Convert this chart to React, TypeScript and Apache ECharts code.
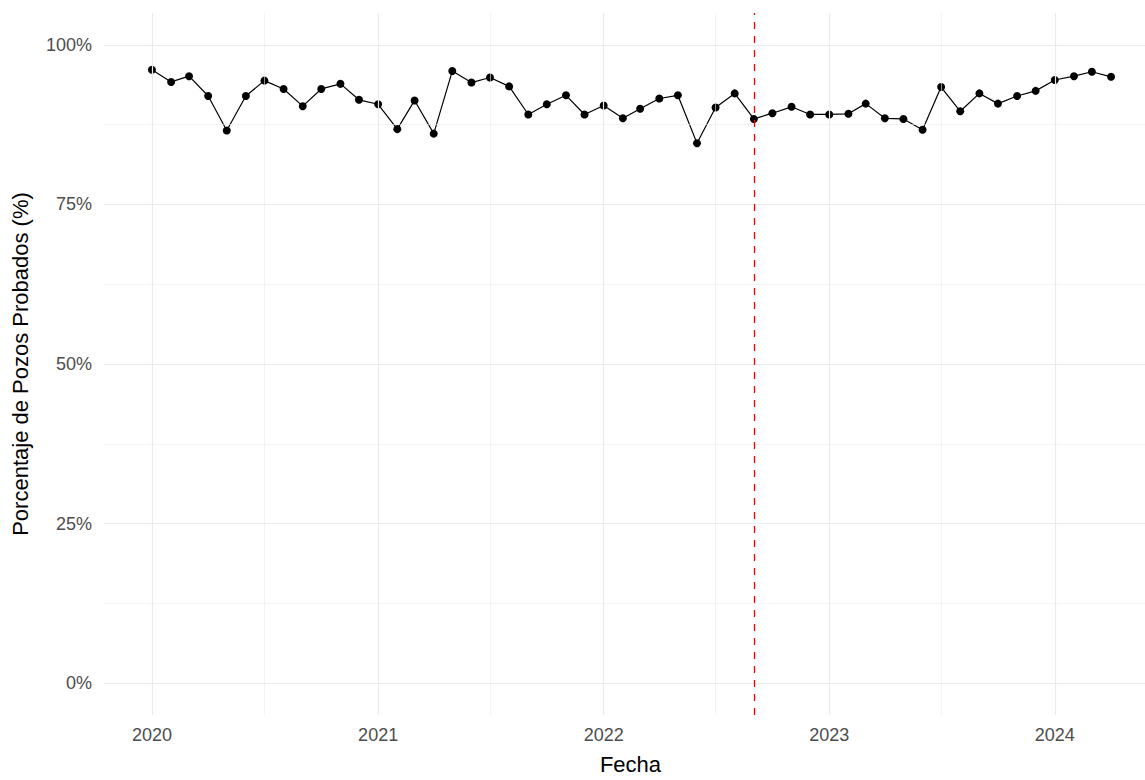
import React, { useEffect, useRef } from "react";
import * as echarts from "echarts";

const fechas: string[] = [
  "2020-01-01", "2020-02-01", "2020-03-01", "2020-04-01", "2020-05-01", "2020-06-01",
  "2020-07-01", "2020-08-01", "2020-09-01", "2020-10-01", "2020-11-01", "2020-12-01",
  "2021-01-01", "2021-02-01", "2021-03-01", "2021-04-01", "2021-05-01", "2021-06-01",
  "2021-07-01", "2021-08-01", "2021-09-01", "2021-10-01", "2021-11-01", "2021-12-01",
  "2022-01-01", "2022-02-01", "2022-03-01", "2022-04-01", "2022-05-01", "2022-06-01",
  "2022-07-01", "2022-08-01", "2022-09-01", "2022-10-01", "2022-11-01", "2022-12-01",
  "2023-01-01", "2023-02-01", "2023-03-01", "2023-04-01", "2023-05-01", "2023-06-01",
  "2023-07-01", "2023-08-01", "2023-09-01", "2023-10-01", "2023-11-01", "2023-12-01",
  "2024-01-01", "2024-02-01", "2024-03-01", "2024-04-01",
];

const porcentajes: number[] = [
  96.1, 94.2, 95.1, 92.0, 86.6, 92.0, 94.4, 93.1, 90.4, 93.1, 93.9, 91.4,
  90.7, 86.8, 91.3, 86.1, 95.9, 94.1, 94.9, 93.5, 89.1, 90.7, 92.1, 89.1,
  90.5, 88.5, 90.0, 91.6, 92.1, 84.6, 90.2, 92.4, 88.4, 89.3, 90.3, 89.1,
  89.1, 89.2, 90.8, 88.5, 88.4, 86.7, 93.4, 89.6, 92.4, 90.8, 92.0, 92.8,
  94.5, 95.1, 95.8, 95.0,
];

const yTicks: number[] = [0, 25, 50, 75, 100];
const yMinor: number[] = [12.5, 37.5, 62.5, 87.5];
const xYears: number[] = [2020, 2021, 2022, 2023, 2024];
const xMinorDates: string[] = ["2020-07-01", "2021-07-01", "2022-07-01", "2023-07-01"];
const fechaCorte = "2022-09-01";

const toMs = (s: string) => {
  const [y, m, d] = s.split("-").map(Number);
  return Date.UTC(y, m - 1, d);
};

export default function App() {
  const ref = useRef<HTMLDivElement>(null);

  useEffect(() => {
    document.documentElement.style.overflow = "hidden";
    document.body.style.margin = "0";
    if (!ref.current) return;
    const chart = echarts.init(ref.current, undefined, { renderer: "svg" });

    const first = toMs(fechas[0]);
    const last = toMs(fechas[fechas.length - 1]);
    const pad = (last - first) * 0.05;
    const xMin = first - pad;
    // the panel of the original runs past the right edge of the picture (cropped)
    const fullSpan = last + pad - xMin;
    const xMax = xMin + fullSpan * (1041 / 1055);
    const yearMs = xYears.map((y) => Date.UTC(y, 0, 1));

    const gridMajor = { color: "#ebebeb", width: 1.2, type: "solid" as const };
    const gridMinor = { color: "#ebebeb", width: 0.6, type: "solid" as const };
    const font = "Liberation Sans, Arial, sans-serif";

    chart.setOption({
      animation: false,
      backgroundColor: "#ffffff",
      grid: { left: 104, width: 1041, top: 13, height: 708, containLabel: false },
      xAxis: {
        type: "value",
        min: xMin,
        max: xMax,
        axisLine: { show: false },
        axisTick: { show: false },
        splitLine: { show: false },
        axisLabel: {
          customValues: yearMs,
          formatter: (v: number) => String(new Date(v).getUTCFullYear()),
          color: "#4d4d4d",
          fontSize: 18,
          fontFamily: font,
          margin: 11,
        },
        name: "Fecha",
        nameLocation: "middle",
        nameGap: 38,
        nameTextStyle: { color: "#000000", fontSize: 22, fontFamily: font, padding: [0, 0, 0, 12] },
      },
      yAxis: {
        type: "value",
        min: -5,
        max: 105,
        axisLine: { show: false },
        axisTick: { show: false },
        splitLine: { show: false },
        axisLabel: {
          customValues: yTicks,
          formatter: (v: number) => `${v}%`,
          color: "#4d4d4d",
          fontSize: 18,
          fontFamily: font,
          margin: 12,
        },
        name: "Porcentaje de Pozos Probados (%)",
        nameLocation: "middle",
        nameRotate: 90,
        nameGap: 73,
        nameTextStyle: { color: "#000000", fontSize: 22, fontFamily: font },
      },
      series: [
        {
          type: "line",
          data: [],
          silent: true,
          markLine: {
            silent: true,
            symbol: "none",
            label: { show: false },
            emphasis: { disabled: true },
            data: [
              ...yMinor.map((v) => ({ yAxis: v, lineStyle: gridMinor })),
              ...xMinorDates.map((d) => ({ xAxis: toMs(d), lineStyle: gridMinor })),
              ...yTicks.map((v) => ({ yAxis: v, lineStyle: gridMajor })),
              ...yearMs.map((t) => ({ xAxis: t, lineStyle: gridMajor })),
            ],
          },
        },
        {
          type: "line",
          data: fechas.map((f, i) => [toMs(f), porcentajes[i]]),
          lineStyle: { color: "#000000", width: 1.2 },
          itemStyle: { color: "#000000" },
          symbol: "circle",
          symbolSize: 8,
          showSymbol: true,
          z: 3,
        },
        {
          type: "line",
          data: [],
          silent: true,
          z: 4,
          markLine: {
            silent: true,
            symbol: "none",
            label: { show: false },
            emphasis: { disabled: true },
            lineStyle: { color: "#ff0000", width: 1.3, type: [7, 7] },
            data: [{ xAxis: toMs(fechaCorte) }],
          },
        },
      ],
    });

    return () => chart.dispose();
  }, []);

  return (
    <div
      ref={ref}
      style={{ position: "absolute", left: 0, top: 0, width: 1145, height: 780 }}
    />
  );
}
